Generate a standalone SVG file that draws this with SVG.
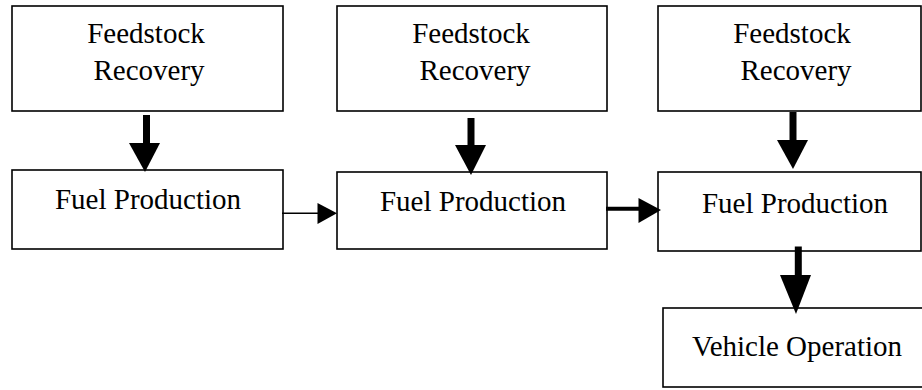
<svg xmlns="http://www.w3.org/2000/svg" width="922" height="390" viewBox="0 0 922 390">
  <style>
    .box { fill: #ffffff; stroke: #000000; stroke-width: 1.6; }
    .lbl { font-family: "Liberation Serif", "Times New Roman", serif; font-size: 29px; fill: #000000; text-anchor: middle; }
    .shaft { stroke: #000000; fill: none; }
    .head { fill: #000000; stroke: none; }
  </style>
  <rect width="922" height="390" fill="#ffffff"/>

  <!-- top row: feedstock recovery -->
  <g id="feedstock1">
    <rect class="box" x="12" y="6" width="271" height="105"/>
    <text class="lbl" x="146" y="43">Feedstock</text>
    <text class="lbl" x="149" y="80">Recovery</text>
  </g>
  <g id="feedstock2">
    <rect class="box" x="337" y="6" width="270" height="105"/>
    <text class="lbl" x="471" y="43">Feedstock</text>
    <text class="lbl" x="475" y="80">Recovery</text>
  </g>
  <g id="feedstock3">
    <rect class="box" x="658" y="6" width="263" height="105"/>
    <text class="lbl" x="792" y="43">Feedstock</text>
    <text class="lbl" x="796" y="80">Recovery</text>
  </g>

  <!-- middle row: fuel production -->
  <g id="fuel1">
    <rect class="box" x="12" y="170" width="271" height="79"/>
    <text class="lbl" x="148" y="209">Fuel Production</text>
  </g>
  <g id="fuel2">
    <rect class="box" x="337" y="172" width="270" height="77"/>
    <text class="lbl" x="473" y="211">Fuel Production</text>
  </g>
  <g id="fuel3">
    <rect class="box" x="658" y="172" width="263" height="79"/>
    <text class="lbl" x="795" y="213">Fuel Production</text>
  </g>

  <!-- bottom: vehicle operation -->
  <g id="vehicle">
    <rect class="box" x="663" y="308" width="270" height="79"/>
    <text class="lbl" x="797" y="356">Vehicle Operation</text>
  </g>

  <!-- connectors -->
  <g id="connectors">
    <!-- feedstock -> fuel (vertical) -->
    <line class="shaft" stroke-width="7" x1="146.5" y1="115" x2="146.5" y2="144"/>
    <polygon class="head" points="129,143 160,143 145,172"/>

    <line class="shaft" stroke-width="7" x1="471" y1="118" x2="471" y2="146"/>
    <polygon class="head" points="455,145 486,145 471,175"/>

    <line class="shaft" stroke-width="7" x1="793" y1="112" x2="793" y2="141"/>
    <polygon class="head" points="777,140 808,140 793,169"/>

    <!-- fuel1 -> fuel2 (thin) -->
    <line class="shaft" stroke-width="1.6" x1="282" y1="213.3" x2="319" y2="213.3"/>
    <polygon class="head" points="317.5,203 317.5,224 337,213.3"/>

    <!-- fuel2 -> fuel3 (thick) -->
    <line class="shaft" stroke-width="4" x1="606" y1="208.7" x2="640" y2="208.7"/>
    <polygon class="head" points="638.5,198 638.5,223 661,210"/>

    <!-- fuel3 -> vehicle -->
    <line class="shaft" stroke-width="7" x1="798.3" y1="246.5" x2="798.3" y2="276"/>
    <polygon class="head" points="780,275 811,275 796,314"/>
  </g>
</svg>
